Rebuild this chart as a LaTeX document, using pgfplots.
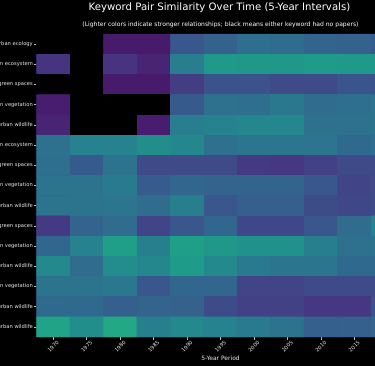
\documentclass[border=0pt]{standalone}
\usepackage{fontspec}
\setmainfont{DejaVu Sans}
\usepackage{pgfplots}
\pgfplotsset{compat=1.18}
\usepackage{pgfplotstable}

% c = -1 means "no papers" (drawn black)
\pgfplotstableread{
x y c
0 0 -1
1 0 -1
2 0 0.07
3 0 0.07
4 0 0.27
5 0 0.31
6 0 0.36
7 0 0.35
8 0 0.32
9 0 0.31
10 0 0.29
0 1 0.15
1 1 -1
2 1 0.15
3 1 0.10
4 1 0.42
5 1 0.54
6 1 0.53
7 1 0.53
8 1 0.55
9 1 0.54
10 1 0.54
0 2 -1
1 2 -1
2 2 0.07
3 2 0.07
4 2 0.18
5 2 0.25
6 2 0.25
7 2 0.22
8 2 0.22
9 2 0.26
10 2 0.25
0 3 0.08
1 3 -1
2 3 -1
3 3 -1
4 3 0.28
5 3 0.37
6 3 0.36
7 3 0.40
8 3 0.35
9 3 0.36
10 3 0.38
0 4 0.10
1 4 -1
2 4 -1
3 4 0.08
4 4 0.42
5 4 0.44
6 4 0.46
7 4 0.46
8 4 0.37
9 4 0.37
10 4 0.38
0 5 0.37
1 5 0.44
2 5 0.44
3 5 0.49
4 5 0.46
5 5 0.37
6 5 0.39
7 5 0.39
8 5 0.39
9 5 0.34
10 5 0.36
0 6 0.36
1 6 0.28
2 6 0.38
3 6 0.22
4 6 0.22
5 6 0.22
6 6 0.17
7 6 0.16
8 6 0.19
9 6 0.22
10 6 0.23
0 7 0.38
1 7 0.38
2 7 0.41
3 7 0.29
4 7 0.33
5 7 0.32
6 7 0.32
7 7 0.32
8 7 0.27
9 7 0.20
10 7 0.23
0 8 0.38
1 8 0.38
2 8 0.39
3 8 0.35
4 8 0.43
5 8 0.27
6 8 0.30
7 8 0.30
8 8 0.23
9 8 0.21
10 8 0.22
0 9 0.17
1 9 0.32
2 9 0.35
3 9 0.20
4 9 0.27
5 9 0.33
6 9 0.21
7 9 0.21
8 9 0.27
9 9 0.35
10 9 0.45
0 10 0.33
1 10 0.44
2 10 0.56
3 10 0.43
4 10 0.56
5 10 0.53
6 10 0.50
7 10 0.50
8 10 0.43
9 10 0.37
10 10 0.38
0 11 0.47
1 11 0.35
2 11 0.48
3 11 0.46
4 11 0.55
5 11 0.47
6 11 0.41
7 11 0.39
8 11 0.39
9 11 0.34
10 11 0.34
0 12 0.38
1 12 0.38
2 12 0.40
3 12 0.27
4 12 0.33
5 12 0.33
6 12 0.20
7 12 0.20
8 12 0.23
9 12 0.23
10 12 0.23
0 13 0.34
1 13 0.34
2 13 0.30
3 13 0.32
4 13 0.31
5 13 0.23
6 13 0.19
7 13 0.19
8 13 0.16
9 13 0.16
10 13 0.25
0 14 0.58
1 14 0.49
2 14 0.60
3 14 0.43
4 14 0.47
5 14 0.44
6 14 0.41
7 14 0.38
8 14 0.30
9 14 0.30
10 14 0.32
}\simtable

\begin{document}
\begin{tikzpicture}
\useasboundingbox (0,0) rectangle (375bp,366bp);
\fill[black] (0,0) rectangle (375bp,366bp);
\clip (0,0) rectangle (375bp,366bp);
\begin{axis}[
  at={(36.5bp,332bp)}, anchor=north west,
  scale only axis, width=368bp, height=303bp,
  xmin=-0.5, xmax=10.5, ymin=-0.5, ymax=14.5, y dir=reverse,
  axis line style={draw=none},
  xtick={0,1,2,3,4,5,6,7,8,9,10},
  xticklabels={1970,1975,1980,1985,1990,1995,2000,2005,2010,2015,2020},
  ytick={0,1,2,3,4,5,6,7,8,9,10,11,12,13,14},
  yticklabels={
    urban biodiversity – urban ecology,
    urban biodiversity – urban ecosystem,
    urban biodiversity – green spaces,
    urban biodiversity – urban vegetation,
    urban biodiversity – urban wildlife,
    urban ecology – urban ecosystem,
    urban ecology – green spaces,
    urban ecology – urban vegetation,
    urban ecology – urban wildlife,
    urban ecosystem – green spaces,
    urban ecosystem – urban vegetation,
    urban ecosystem – urban wildlife,
    green spaces – urban vegetation,
    green spaces – urban wildlife,
    urban vegetation – urban wildlife},
  xtick pos=left, ytick pos=left,
  tick align=outside, major tick length=2.5bp,
  tick style={color=white!75!black, line width=0.5bp},
  tick label style={font=\fontsize{5.2}{6}\selectfont, text=white!92!black},
  yticklabel style={inner sep=1bp},
  xticklabel style={anchor=center, yshift=-7bp, rotate=45},
  xlabel={5-Year Period},
  xlabel style={font=\fontsize{6}{7}\selectfont, text=white!92!black, at={(axis description cs:0.5,0)}, anchor=center, yshift=-21.5bp},
  colormap={vb}{rgb255(0cm)=(0,0,0) rgb255(9.9cm)=(0,0,0)
    rgb255(10cm)=(68,1,84) rgb255(10.5cm)=(71,19,101) rgb255(11cm)=(72,36,117)
    rgb255(11.5cm)=(70,52,128) rgb255(12cm)=(65,68,135) rgb255(12.5cm)=(59,82,139)
    rgb255(13cm)=(53,95,141) rgb255(13.5cm)=(47,108,142) rgb255(14cm)=(42,120,142)
    rgb255(14.5cm)=(37,132,142) rgb255(15cm)=(33,145,140) rgb255(15.5cm)=(30,156,137)
    rgb255(16cm)=(34,168,132) rgb255(16.5cm)=(47,180,124) rgb255(17cm)=(68,191,112)
    rgb255(18cm)=(122,209,81) rgb255(19cm)=(189,223,38) rgb255(20cm)=(253,231,37)},
  point meta min=-1, point meta max=1,
]
\addplot[matrix plot*, mesh/cols=11, point meta=explicit] table[meta=c]{\simtable};
\end{axis}
\node[font=\fontsize{10.2}{12}\selectfont, text=white] at (219.5bp,358bp) {Keyword Pair Similarity Over Time (5-Year Intervals)};
\node[font=\fontsize{6.1}{7}\selectfont, text=white] at (220.5bp,341.5bp) {(Lighter colors indicate stronger relationships; black means either keyword had no papers)};
\end{tikzpicture}
\end{document}
